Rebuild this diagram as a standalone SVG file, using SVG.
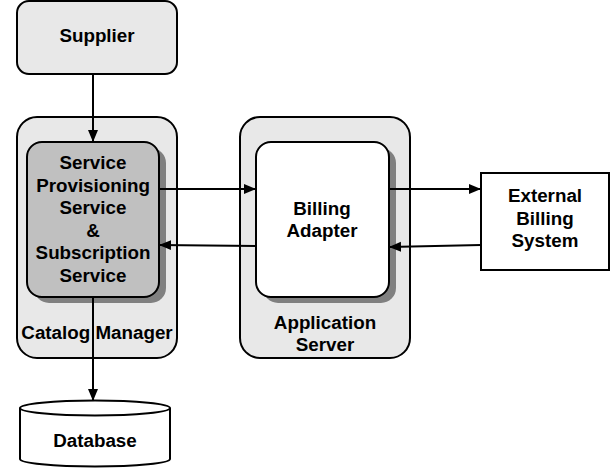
<svg xmlns="http://www.w3.org/2000/svg" width="611" height="469" viewBox="0 0 611 469">
<defs>
<style>
text{font-family:"Liberation Sans",Arial,sans-serif;font-weight:bold;font-size:18.8px;text-anchor:middle;fill:#000}
.box{stroke:#000;stroke-width:2}
.shadow{fill:#808080;stroke:none}
.conn{stroke:#000;stroke-width:2;fill:none}
</style>
<marker id="ah" viewBox="0 0 12 12" refX="12" refY="6" markerWidth="12" markerHeight="12" orient="auto" markerUnits="userSpaceOnUse">
<path d="M0,1 L12,6 L0,11 z" fill="#000"/>
</marker>
</defs>
<g id="supplier">
<rect class="box" x="17" y="1" width="160" height="73" rx="12" fill="#e8e8e8"/>
<text x="97" y="42">Supplier</text>
</g>
<g id="catalog-manager">
<rect class="box" x="17" y="117" width="160" height="241" rx="20" fill="#e8e8e8"/>
<text x="97" y="339">Catalog Manager</text>
</g>
<g id="sps">
<rect class="shadow" x="34" y="148" width="132" height="155" rx="15"/>
<rect class="box" x="27" y="142" width="132" height="155" rx="15" fill="#c0c0c0"/>
<text x="93" y="169">Service</text>
<text x="93" y="192">Provisioning</text>
<text x="93" y="214">Service</text>
<text x="93" y="237">&amp;</text>
<text x="93" y="259">Subscription</text>
<text x="93" y="282">Service</text>
</g>
<g id="application-server">
<rect class="box" x="240" y="117" width="170" height="241" rx="20" fill="#e8e8e8"/>
<text x="325" y="329">Application</text>
<text x="325" y="351">Server</text>
</g>
<g id="billing-adapter">
<rect class="shadow" x="263" y="148" width="133" height="155" rx="15"/>
<rect class="box" x="256" y="142" width="133" height="155" rx="15" fill="#fff"/>
<text x="322" y="215">Billing</text>
<text x="322" y="237">Adapter</text>
</g>
<g id="external-billing">
<rect class="box" x="481" y="173" width="128" height="97" fill="#fff"/>
<text x="545" y="202">External</text>
<text x="545" y="225">Billing</text>
<text x="545" y="247">System</text>
</g>
<g id="database">
<path class="box" d="M20,408 A75,7.5 0 0 1 170,408 L170,459 A75,7.5 0 0 1 20,459 Z" fill="#fff"/>
<path class="box" d="M20,408 A75,7.5 0 0 0 170,408" fill="none"/>
<text x="95" y="447">Database</text>
</g>
<g id="connectors">
<line class="conn" x1="93" y1="74" x2="93" y2="142" marker-end="url(#ah)"/>
<line class="conn" x1="159" y1="189" x2="256" y2="189" marker-end="url(#ah)"/>
<line class="conn" x1="256" y1="246" x2="159" y2="245" marker-end="url(#ah)"/>
<line class="conn" x1="389" y1="189" x2="481" y2="189" marker-end="url(#ah)"/>
<line class="conn" x1="481" y1="245" x2="389" y2="247" marker-end="url(#ah)"/>
<line class="conn" x1="93" y1="297" x2="93" y2="401" marker-end="url(#ah)"/>
</g>
</svg>
